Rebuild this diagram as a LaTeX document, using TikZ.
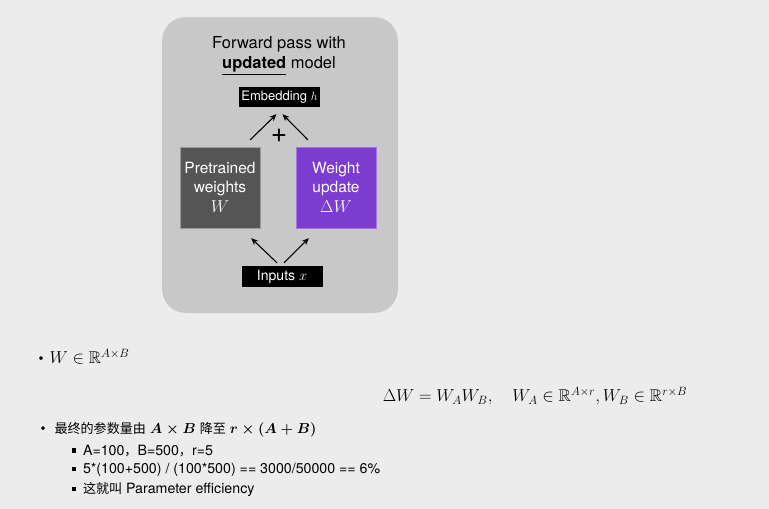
\documentclass[tikz,border=0pt]{standalone}
\usepackage{amsmath,amssymb}
\usepackage{fontspec}
\setmainfont{TeX Gyre Heros}
\newfontfamily\cjk[Scale=0.92]{Noto Sans CJK SC}
\usetikzlibrary{arrows.meta,calc}
\definecolor{pagebg}{RGB}{236,236,236}
\definecolor{panelgray}{RGB}{200,200,200}
\definecolor{wgray}{RGB}{85,85,85}
\definecolor{upurple}{RGB}{124,60,208}
\newcommand{\sqbullet}{\rule[2.5pt]{4.5pt}{4.5pt}\hspace{7pt}}

\begin{document}
\begin{tikzpicture}[x=1pt,y=-1pt,
  blackbox/.style={fill=black,text=white,font=\fontsize{13}{15}\selectfont,minimum width=81pt,minimum height=20pt,inner sep=0pt},
  wbox/.style={minimum width=80pt,minimum height=81pt,text=white,align=center,font=\fontsize{15.5}{19}\selectfont,inner sep=0pt},
  arr/.style={-{Stealth[length=7pt,width=6pt]},line width=1.1pt},
  line/.style={anchor=west,font=\fontsize{14.2}{16}\selectfont}]
\fill[pagebg] (0,0) rectangle (769,509);
\useasboundingbox (0,0) rectangle (769,509);
% panel with the forward pass
\node[fill=panelgray,rounded corners=24pt,minimum width=236pt,minimum height=296pt] (panel) at (280,165) {};
\node[align=center,font=\fontsize{16.5}{20}\selectfont] (title) at (279,56) {Forward pass with\\\underline{\textbf{updated}} model};
\node[blackbox] (emb) at (279.5,97) {Embedding $h$};
\node[wbox,fill=wgray,draw=gray!80] (pre) at (220,187.5) {Pretrained\\weights\\[1pt]$\text{\fontsize{18}{18}\selectfont$W$}$};
\node[wbox,fill=upurple,draw=upurple!70!white] (upd) at (336,187.5) {Weight\\update\\[1pt]$\text{\fontsize{18}{18}\selectfont$\Delta W$}$};
\node[blackbox,font=\fontsize{14}{16}\selectfont,minimum height=21pt] (inp) at (282,276.5) {Inputs $x$};
\node[font=\fontsize{28}{28}\selectfont] (plus) at (279,136) {+};
\draw[arr] ([xshift=-10pt,yshift=7pt]pre.north east) -- ([xshift=-3pt,yshift=-7pt]emb.south);
\draw[arr] ([xshift=12pt,yshift=7pt]upd.north west) -- ([xshift=3pt,yshift=-7pt]emb.south);
\draw[arr] ([xshift=-5pt,yshift=3pt]inp.north) -- ([xshift=-9pt,yshift=-10pt]pre.south east);
\draw[arr] ([xshift=2pt,yshift=3pt]inp.north) -- ([xshift=13pt,yshift=-10pt]upd.south west);
% notes below
\node[line] (l1) at (35,357) {\textbullet\hspace{6pt}\fontsize{17}{18}\selectfont$W\in\mathbb{R}^{A\times B}$};
\node[font=\fontsize{17}{18}\selectfont] (eq) at (535,396) {$\Delta W = W_AW_B,\quad W_A\in\mathbb{R}^{A\times r}, W_B\in\mathbb{R}^{r\times B}$};
\node[line] (l2) at (37,430) {\textbullet\hspace{9pt}{\cjk 最终的参数量由} {\fontsize{14.5}{16}\selectfont\boldmath$A\times B$} {\cjk 降至} {\fontsize{14.5}{16}\selectfont\boldmath$r\times(A+B)$}};
\node[line] (s1) at (68,451) {\sqbullet A=100{\cjk ，}B=500{\cjk ，}r=5};
\node[line] (s2) at (68,470) {\sqbullet 5*(100+500) / (100*500) == 3000/50000 == 6\%};
\node[line] (s3) at (68,490) {\sqbullet{\cjk 这就叫} Parameter efficiency};
\end{tikzpicture}
\end{document}
